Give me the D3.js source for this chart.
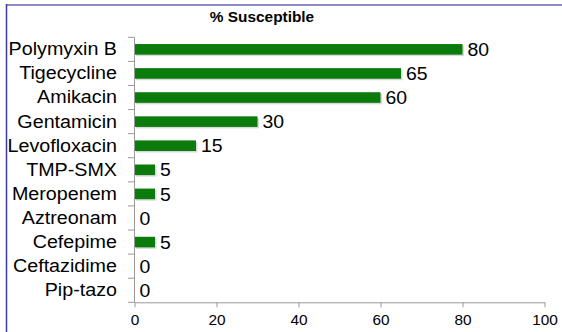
<!DOCTYPE html>
<html>
<head>
<meta charset="utf-8">
<script src="https://cdn.jsdelivr.net/npm/d3@7"></script>
<style>
html,body{margin:0;padding:0;background:#fff;}
svg{display:block;font-family:"Liberation Sans",Arial,sans-serif;}
</style>
</head>
<body>
<svg id="chart" width="562" height="332"></svg>
<script>
const categories = ["Polymyxin B","Tigecycline","Amikacin","Gentamicin","Levofloxacin","TMP-SMX","Meropenem","Aztreonam","Cefepime","Ceftazidime","Pip-tazo"];
const susceptible = [80,65,60,30,15,5,5,0,5,0,0];
const xTicks = [0,20,40,60,80,100];
const chartTitle = "% Susceptible";

const svg = d3.select("#chart");
const W = 562, H = 332;
const SX = 1.065; // horizontal text stretch seen in reference

// frame lines
svg.append("line").attr("x1",6).attr("x2",W).attr("y1",5).attr("y2",5)
  .attr("stroke","#8c8cc8").attr("stroke-width",2);
svg.append("line").attr("x1",6.5).attr("x2",6.5).attr("y1",4).attr("y2",H)
  .attr("stroke","#3a3aaa").attr("stroke-width",1.5);

const x = d3.scaleLinear().domain([0,100]).range([134.5,544.5]);
const y = d3.scaleBand().domain(categories).range([37.3,302.3]).paddingInner(0.56).paddingOuter(0.28);

// title
svg.append("text").attr("transform",`translate(262,22) scale(1.1,1)`)
  .attr("text-anchor","middle").attr("font-weight","bold").attr("font-size",14)
  .attr("fill","#000").text(chartTitle);

// shadow + bars
const data = categories.map((c,i)=>({c, v: susceptible[i]}));
svg.append("g").selectAll("rect").data(data.filter(d=>d.v>0)).join("rect")
  .attr("x", x(0)+1.5).attr("y", d=>y(d.c)+1.5)
  .attr("width", d=>x(d.v)-x(0)).attr("height", y.bandwidth())
  .attr("fill","#d8d8d8");
svg.append("g").selectAll("rect").data(data.filter(d=>d.v>0)).join("rect")
  .attr("x", x(0)).attr("y", d=>y(d.c))
  .attr("width", d=>x(d.v)-x(0)).attr("height", y.bandwidth())
  .attr("fill","#0b7b0b");

// value labels
svg.append("g").selectAll("text").data(data).join("text")
  .attr("transform", d=>`translate(${x(d.v)+5},${y(d.c)+y.bandwidth()/2}) scale(1.05,1)`)
  .attr("dy","0.36em").attr("font-size",18.5).attr("fill","#000")
  .text(d=>d.v);

// y axis: line, boundary ticks, labels
const axisColor = "#999";
const step = y.step();
const y0 = 37.3;
svg.append("line").attr("x1",x(0)).attr("x2",x(0)).attr("y1",y0).attr("y2",302.3)
  .attr("stroke",axisColor).attr("stroke-width",1);
svg.append("g").selectAll("line").data(d3.range(categories.length+1)).join("line")
  .attr("x1",128).attr("x2",x(0)).attr("y1",i=>y0+i*step).attr("y2",i=>y0+i*step)
  .attr("stroke",axisColor).attr("stroke-width",1);
const yAxis = svg.append("g").attr("transform",`translate(${x(0)},0)`)
  .call(d3.axisLeft(y).tickSize(0).tickPadding(17.5/SX));
yAxis.select(".domain").remove();
yAxis.selectAll("text").attr("font-size",18.5).attr("fill","#000")
  .attr("font-family","Liberation Sans, Arial, sans-serif")
  .attr("transform",`scale(${SX},1)`);

// x axis
const xAxis = svg.append("g").attr("transform","translate(0,302.3)")
  .call(d3.axisBottom(x).tickValues(xTicks).tickSize(5).tickPadding(8).tickSizeOuter(0));
xAxis.select(".domain").attr("stroke",axisColor);
xAxis.selectAll(".tick line").attr("stroke",axisColor);
xAxis.selectAll("text").attr("font-size",14).attr("fill","#000")
  .attr("font-family","Liberation Sans, Arial, sans-serif")
  .attr("transform","scale(1.1,1)");
</script>
</body>
</html>
